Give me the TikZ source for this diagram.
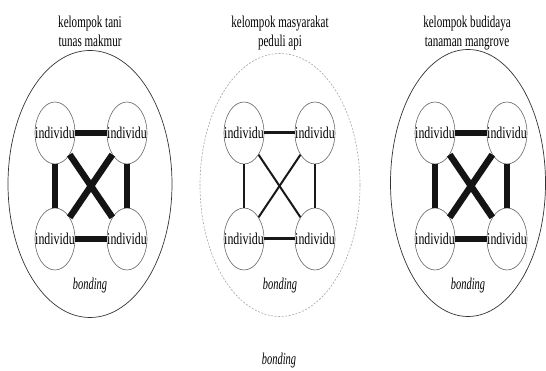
\documentclass[tikz,border=0pt]{standalone}
\usepackage{fontspec}
\setmainfont{Liberation Serif}
\usetikzlibrary{shapes.geometric}
\begin{document}
\begin{tikzpicture}[x=1pt,y=-1pt,
  bigell/.style={ellipse, draw=black!80, line width=0.7pt, inner sep=0pt},
  midell/.style={ellipse, draw=black!35, dash pattern=on 2pt off 1.5pt, line width=0.6pt, inner sep=0pt},
  ind/.style={ellipse, draw=black!60, line width=0.6pt, minimum width=40pt, minimum height=62pt, inner sep=0pt},
  indtxt/.style={font=\fontsize{16.5}{18}\selectfont, xscale=0.72, inner sep=0pt},
  ttl/.style={font=\fontsize{16.5}{18}\selectfont, xscale=0.67, inner sep=0pt, anchor=base},
  bnd/.style={font=\fontsize{16.5}{18}\selectfont\itshape, xscale=0.63, inner sep=0pt, anchor=base},
  bh/.style={draw=black!92, line width=6.5pt},
  bv/.style={draw=black!92, line width=5.5pt},
  bd/.style={draw=black!92, line width=6.5pt},
  mh/.style={draw=black!90, line width=3pt},
  mv/.style={draw=black!90, line width=2pt},
]
\useasboundingbox (0,0) rectangle (546,371);

% ---------- left group ----------
\node[bigell, minimum width=164pt, minimum height=267pt] (L) at (90,184) {};
\node[ttl] (Lt1) at (90,28) {kelompok tani};
\node[ttl] (Lt2) at (90,47) {tunas makmur};
\node[ind] (L1) at (55,133) {};
\node[ind] (L2) at (127,133) {};
\node[ind] (L3) at (55,239) {};
\node[ind] (L4) at (127,239) {};
\draw[bh] (L1) -- (L2);
\draw[bh] (L3) -- (L4);
\draw[bv] (L1) -- (L3);
\draw[bv] (L2) -- (L4);
\draw[bd] (L1) -- (L4);
\draw[bd] (L2) -- (L3);
\node[indtxt] (L1t) at (L1) {individu};
\node[indtxt] (L2t) at (L2) {individu};
\node[indtxt] (L3t) at (L3) {individu};
\node[indtxt] (L4t) at (L4) {individu};
\node[bnd] (Lb) at (90,290) {bonding};

% ---------- middle group ----------
\node[midell, minimum width=160pt, minimum height=263pt] (M) at (280,185) {};
\node[ttl] (Mt1) at (280,28) {kelompok masyarakat};
\node[ttl] (Mt2) at (280,47) {peduli api};
\node[ind] (M1) at (244,133) {};
\node[ind] (M2) at (315,133) {};
\node[ind] (M3) at (244,239) {};
\node[ind] (M4) at (315,239) {};
\draw[mh] (M1) -- (M2);
\draw[mh] (M3) -- (M4);
\draw[mv] (M1) -- (M3);
\draw[mv] (M2) -- (M4);
\draw[mv] (M1) -- (M4);
\draw[mv] (M2) -- (M3);
\node[indtxt] (M1t) at (M1) {individu};
\node[indtxt] (M2t) at (M2) {individu};
\node[indtxt] (M3t) at (M3) {individu};
\node[indtxt] (M4t) at (M4) {individu};
\node[bnd] (Mb) at (280,290) {bonding};

% ---------- right group ----------
\node[bigell, minimum width=155pt, minimum height=267pt] (R) at (468,183) {};
\node[ttl] (Rt1) at (467,28) {kelompok budidaya};
\node[ttl] (Rt2) at (467,47) {tanaman mangrove};
\node[ind] (R1) at (435,133) {};
\node[ind] (R2) at (507,133) {};
\node[ind] (R3) at (435,239) {};
\node[ind] (R4) at (507,239) {};
\draw[bh] (R1) -- (R2);
\draw[bh] (R3) -- (R4);
\draw[bv] (R1) -- (R3);
\draw[bv] (R2) -- (R4);
\draw[bd] (R1) -- (R4);
\draw[bd] (R2) -- (R3);
\node[indtxt] (R1t) at (R1) {individu};
\node[indtxt] (R2t) at (R2) {individu};
\node[indtxt] (R3t) at (R3) {individu};
\node[indtxt] (R4t) at (R4) {individu};
\node[bnd] (Rb) at (468,290) {bonding};

% ---------- bottom label ----------
\node[bnd] (B) at (279,364) {bonding};
\end{tikzpicture}
\end{document}
